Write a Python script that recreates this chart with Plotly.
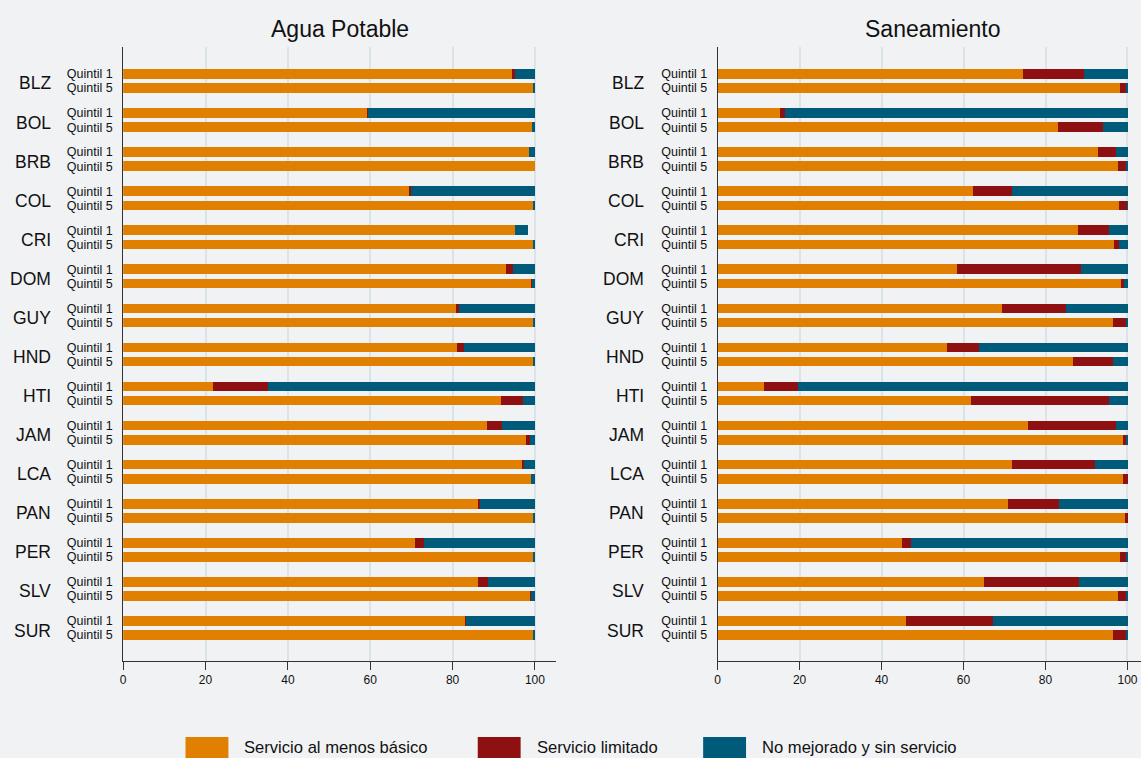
import plotly.graph_objects as go

countries = ["BLZ", "BOL", "BRB", "COL", "CRI", "DOM", "GUY", "HND",
             "HTI", "JAM", "LCA", "PAN", "PER", "SLV", "SUR"]
quintiles = ["Quintil 1", "Quintil 5"]

# Agua Potable (Q1, Q5 pairs per country)
agua_basico = [94.5, 99.6, 59.4, 99.4, 98.5, 100.0, 69.6, 99.6, 95.3, 99.7,
               93.1, 99.1, 80.8, 99.6, 81.0, 99.5, 21.8, 91.9, 88.4, 97.9,
               97.1, 99.1, 86.4, 99.6, 70.9, 99.5, 86.3, 99.0, 83.2, 99.5]
agua_limitado = [0.6, 0.0, 0.1, 0.0, 0.0, 0.0, 0.4, 0.0, 0.0, 0.0,
                 1.7, 0.2, 0.8, 0.0, 1.7, 0.0, 13.3, 5.2, 3.6, 1.0,
                 0.4, 0.0, 0.3, 0.0, 2.1, 0.0, 2.4, 0.2, 0.2, 0.0]
agua_sin = [4.9, 0.4, 40.5, 0.6, 1.5, 0.0, 30.0, 0.4, 3.1, 0.3,
            5.2, 0.7, 18.4, 0.4, 17.3, 0.5, 64.9, 2.9, 8.0, 1.1,
            2.5, 0.9, 13.3, 0.4, 27.0, 0.5, 11.3, 0.8, 16.6, 0.5]

# Saneamiento
san_basico = [74.3, 98.1, 15.2, 82.9, 92.7, 97.5, 62.3, 97.8, 87.8, 96.5,
              58.2, 98.3, 69.4, 96.3, 55.8, 86.5, 11.2, 61.8, 75.7, 98.8,
              71.7, 98.9, 70.7, 99.2, 45.0, 98.1, 65.0, 97.6, 45.8, 96.3]
san_limitado = [14.9, 1.5, 1.2, 11.0, 4.5, 2.2, 9.5, 2.0, 7.6, 1.3,
                30.4, 0.8, 15.6, 3.3, 8.0, 9.8, 8.3, 33.5, 21.4, 0.8,
                20.2, 1.1, 12.5, 0.8, 2.2, 1.4, 23.1, 2.0, 21.3, 3.4]
san_sin = [10.8, 0.4, 83.6, 6.1, 2.8, 0.3, 28.2, 0.2, 4.6, 2.2,
           11.4, 0.9, 15.0, 0.4, 36.2, 3.7, 80.5, 4.7, 2.9, 0.4,
           8.1, 0.0, 16.8, 0.0, 52.8, 0.5, 11.9, 0.4, 32.9, 0.3]

series_names = ["Servicio al menos básico", "Servicio limitado", "No mejorado y sin servicio"]
colors = ["#e07f00", "#8e1010", "#005a7a"]
panel_titles = ["Agua Potable", "Saneamiento"]

W, H = 1141, 758
GROUP = 39.2
INNER = 14.2
MT, MB = 47, 97
plot_h = H - MT - MB


def py(px_from_top):
    """paper y for a pixel row measured from the top of the figure"""
    return (H - MB - px_from_top) / plot_h


ypos = []
ylabels = []
for i, c in enumerate(countries):
    for j, q in enumerate(quintiles):
        ypos.append(i * GROUP + j * INNER)
        ylabels.append(q)

fig = go.Figure()
panels = [(agua_basico, agua_limitado, agua_sin), (san_basico, san_limitado, san_sin)]
for p, data in enumerate(panels):
    xa = "x" if p == 0 else "x2"
    ya = "y" if p == 0 else "y2"
    for k, vals in enumerate(data):
        fig.add_trace(go.Bar(
            x=vals, y=ypos, orientation="h", width=9.6,
            marker=dict(color=colors[k], line=dict(width=0)),
            name=series_names[k], showlegend=False,
            xaxis=xa, yaxis=ya,
            hovertemplate="%{x}<extra>" + series_names[k] + "</extra>",
        ))

font_main = "Liberation Sans, Arial, sans-serif"

yrange = [len(countries) * GROUP - GROUP + INNER + 26, -27]
common_y = dict(
    range=yrange, tickmode="array", tickvals=ypos, ticktext=ylabels,
    showgrid=False, zeroline=False, showline=True, linecolor="#333333", linewidth=1,
    ticks="", tickfont=dict(family=font_main, size=12.5, color="#111111"),
    ticklabelstandoff=7,
)
common_x = dict(
    tickmode="array", tickvals=[0, 20, 40, 60, 80, 100],
    showgrid=True, gridcolor="#d9e3e8", gridwidth=1.5, zeroline=False,
    showline=True, linecolor="#333333", linewidth=1,
    ticks="outside", ticklen=8, tickcolor="#333333",
    tickfont=dict(family=font_main, size=12, color="#111111"),
)

fig.update_layout(
    width=W, height=H,
    paper_bgcolor="#f0f2f4", plot_bgcolor="#f0f2f4",
    margin=dict(l=0, r=0, t=MT, b=MB),
    barmode="stack", bargap=0,
    xaxis=dict(domain=[120.5 / W, 554 / W], range=[0, 105], anchor="y", **common_x),
    yaxis=dict(domain=[0, 1], anchor="x", **common_y),
    xaxis2=dict(domain=[716.5 / W, 1.0], range=[0, 103.3], anchor="y2", **common_x),
    yaxis2=dict(domain=[0, 1], anchor="x2", **common_y),
    font=dict(family=font_main, color="#111111"),
)

annotations = []
for t, cx in zip(panel_titles, [337.5, 932]):
    annotations.append(dict(text=t, x=cx / W, y=py(28.5), xref="paper", yref="paper",
                            xanchor="center", yanchor="middle", showarrow=False,
                            font=dict(size=23, color="#111111", family=font_main)))

# country labels
for p, xr in enumerate([50, 645]):
    yref = "y" if p == 0 else "y2"
    for i, c in enumerate(countries):
        annotations.append(dict(
            text=c, x=xr / W, xref="paper", xanchor="right",
            y=i * GROUP + INNER / 2 + 2.5, yref=yref, yanchor="middle",
            showarrow=False, font=dict(size=17.5, color="#111111", family=font_main),
        ))

# custom legend
shapes = []
leg_items = [(183, 240), (476, 533), (702, 759)]
for k, (rx, tx) in enumerate(leg_items):
    shapes.append(dict(type="rect", xref="paper", yref="paper",
                       x0=rx / W, x1=(rx + 43) / W,
                       y0=py(758), y1=py(737),
                       fillcolor=colors[k], line=dict(width=0)))
    annotations.append(dict(text=series_names[k], x=tx / W, xref="paper", xanchor="left",
                            y=py(747.5), yref="paper", yanchor="middle",
                            showarrow=False, font=dict(size=16.6, color="#111111", family=font_main)))

fig.update_layout(annotations=annotations, shapes=shapes)
fig.write_html("out.html", config={"displayModeBar": False},
               post_script="document.body.style.margin='0';document.body.style.overflow='hidden';")
